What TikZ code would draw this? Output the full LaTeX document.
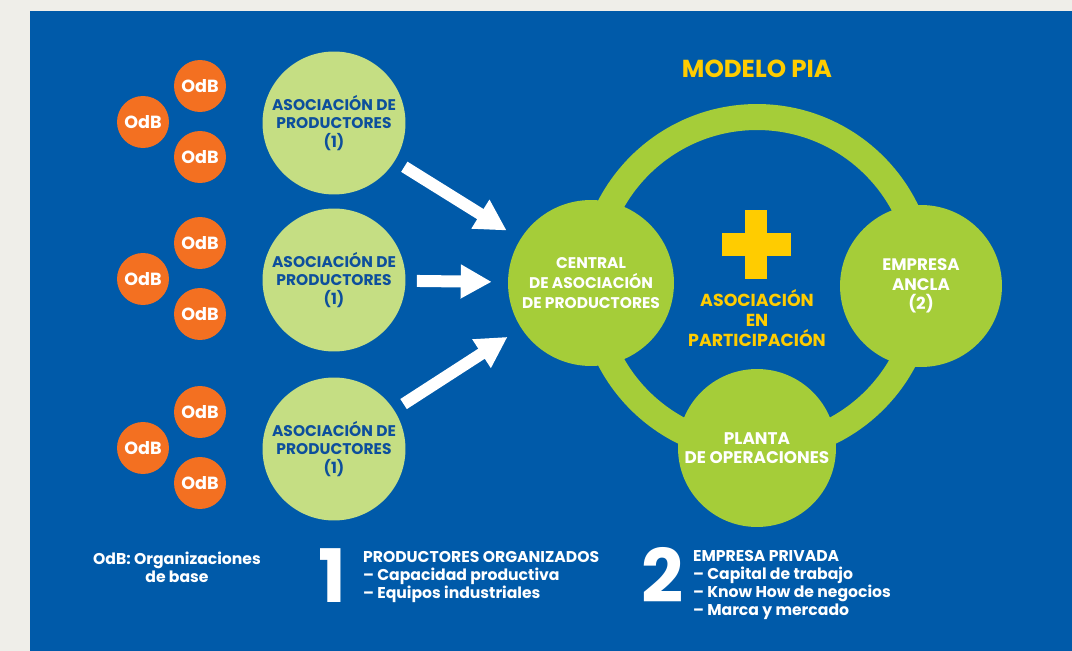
\documentclass[tikz,border=0pt]{standalone}
\usepackage{fontspec}
\setmainfont{Poppins}
\usetikzlibrary{arrows.meta}
\definecolor{piagray}{HTML}{EFEEE9}
\definecolor{piablue}{HTML}{005AA9}
\definecolor{piaorange}{HTML}{F37021}
\definecolor{pialight}{HTML}{C5DE83}
\definecolor{piagreen}{HTML}{A5CD39}
\definecolor{piayellow}{HTML}{FFCC00}
\definecolor{piatext}{HTML}{0D4F9C}

\begin{document}
\begin{tikzpicture}[x=0.02cm,y=-0.02cm,
  odb/.style={circle,fill=piaorange,inner sep=0pt,minimum size=1.04cm,
    text=white,font=\fontsize{10}{12}\selectfont\bfseries},
  asoc/.style={circle,fill=pialight,inner sep=0pt,minimum size=2.86cm,align=center,
    text=piatext,font=\fontsize{8.8}{10.4}\selectfont\bfseries},
  bigdot/.style={circle,fill=piagreen,inner sep=0pt,align=center,
    text=white,font=\fontsize{9.2}{11.2}\selectfont\bfseries},
  flow/.style={white,line width=0.24cm,-{Triangle[width=0.64cm,length=0.62cm]},
    shorten <=0.22cm,shorten >=0.32cm},
  legend/.style={text=white,align=left,inner sep=1pt,font=\fontsize{8.9}{10.2}\selectfont\bfseries},
  bignum/.style={text=white,inner sep=0pt,font=\fontsize{42}{42}\selectfont\bfseries}]
  \useasboundingbox (0,0) rectangle (1072,651);
  \fill[piagray] (0,0) rectangle (1072,651);
  \fill[piablue] (30,11) rectangle (1072,651);

  \foreach \n/\y in {1/122,2/279,3/448} {
    \node[odb] (odb\n a) at (200,\y-36) {OdB};
    \node[odb] (odb\n b) at (143,\y) {OdB};
    \node[odb] (odb\n c) at (200,\y+35) {OdB};
    \node[asoc] (asoc\n) at (334,\y+1) {ASOCIACIÓN DE\\PRODUCTORES\\(1)};
  }

  \coordinate (pia) at (757,283);
  \draw[piagreen,line width=0.52cm] (pia) circle (3.32cm);
  \node[text=piayellow,font=\fontsize{14}{16}\selectfont\bfseries] (title) at (757,69) {MODELO PIA};

  \node[bigdot,minimum size=3.32cm,font=\fontsize{8.8}{11.2}\selectfont\bfseries] (central) at (591,283)
    {CENTRAL\\DE ASOCIACIÓN\\DE PRODUCTORES};
  \node[bigdot,minimum size=3.24cm,font=\fontsize{9.5}{11.2}\selectfont\bfseries] (ancla) at (921,286)
    {EMPRESA\\ANCLA\\(2)};
  \node[bigdot,minimum size=3.16cm,font=\fontsize{9.6}{11}\selectfont\bfseries] (planta) at (757,448)
    {PLANTA\\DE OPERACIONES};

  \fill[piayellow] (745,210) rectangle (767,279);
  \fill[piayellow] (722,233) rectangle (791,256);
  \node[text=piayellow,align=center,font=\fontsize{9.9}{11.6}\selectfont\bfseries] (ap) at (757,318)
    {ASOCIACIÓN\\EN\\PARTICIPACIÓN};

  \draw[flow] (asoc1) -- (central);
  \draw[flow] (asoc2) -- (central);
  \draw[flow] (asoc3) -- (central);

  \node[legend,align=center] (odbnote) at (177,567) {OdB: Organizaciones\\de base};
  \node[bignum] (num1) at (332,576) {1};
  \node[legend,anchor=west] (note1) at (361,577)
    {PRODUCTORES ORGANIZADOS\\– Capacidad productiva\\– Equipos industriales};
  \node[bignum] (num2) at (663,575) {2};
  \node[legend,anchor=west] (note2) at (691,585)
    {EMPRESA PRIVADA\\– Capital de trabajo\\– Know How de negocios\\– Marca y mercado};
\end{tikzpicture}
\end{document}
